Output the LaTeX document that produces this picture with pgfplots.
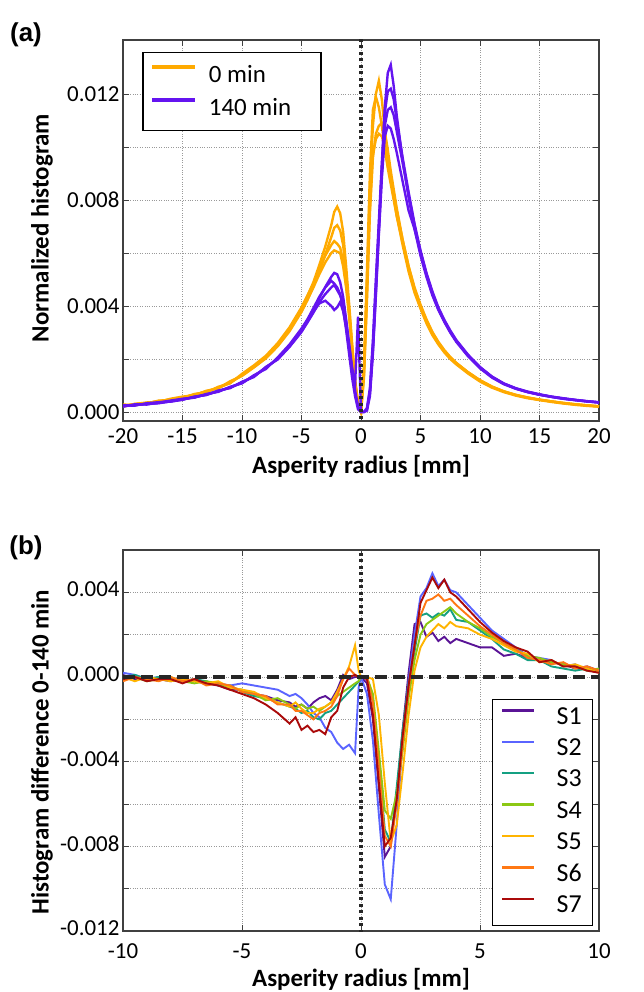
\documentclass[border=0pt]{standalone}
\usepackage{fontspec}
\setmainfont{Carlito}
\newfontfamily\arialf{Liberation Sans}
\usepackage{pgfplots}
\usepackage{pgfplotstable}
\pgfplotsset{compat=1.18}

\definecolor{orA}{RGB}{255,170,0}
\definecolor{puA}{RGB}{100,20,240}
\definecolor{sA}{RGB}{90,20,150}
\definecolor{sB}{RGB}{90,100,255}
\definecolor{sC}{RGB}{20,160,130}
\definecolor{sD}{RGB}{140,200,20}
\definecolor{sE}{RGB}{255,180,0}
\definecolor{sF}{RGB}{255,120,20}
\definecolor{sG}{RGB}{170,10,10}

% values in units of 1e-3
\pgfplotstableread{
x o1 o2 o3 o4 p1 p2 p3 p4
-20 0.25 0.22 0.28 0.20 0.22 0.25 0.20 0.24
-19 0.28 0.30 0.26 0.31 0.27 0.24 0.29 0.26
-18 0.34 0.36 0.32 0.33 0.30 0.33 0.28 0.31
-17 0.41 0.38 0.43 0.40 0.34 0.37 0.36 0.33
-16 0.47 0.50 0.45 0.48 0.41 0.39 0.43 0.40
-15 0.55 0.58 0.53 0.56 0.48 0.46 0.50 0.47
-14 0.66 0.63 0.68 0.64 0.55 0.58 0.54 0.57
-13 0.77 0.80 0.74 0.78 0.66 0.64 0.68 0.65
-12 0.92 0.89 0.95 0.90 0.78 0.81 0.76 0.79
-11 1.12 1.16 1.08 1.10 0.93 0.90 0.95 0.92
-10 1.40 1.36 1.44 1.38 1.10 1.14 1.08 1.12
-9 1.72 1.68 1.76 1.70 1.36 1.32 1.39 1.34
-8 2.08 2.02 2.12 2.05 1.66 1.70 1.62 1.68
-7 2.55 2.48 2.60 2.50 2.02 1.98 2.06 2.00
-6 3.15 3.05 3.20 3.10 2.50 2.46 2.55 2.48
-5 3.90 3.78 3.95 3.80 3.10 3.02 3.15 3.05
-4.5 4.38 4.22 4.40 4.25 3.45 3.38 3.50 3.40
-4 4.90 4.72 4.85 4.70 3.85 3.75 3.92 3.78
-3.5 5.55 5.30 5.40 5.20 4.30 4.15 4.35 4.10
-3 6.25 5.95 5.90 5.65 4.72 4.45 4.70 4.20
-2.5 7.05 6.60 6.30 6.00 5.10 4.70 4.95 4.00
-2.25 7.55 6.95 6.45 6.10 5.25 4.80 4.85 3.85
-2 7.75 7.05 6.35 6.05 5.20 4.60 4.70 3.95
-1.75 7.50 6.85 6.20 6.00 4.90 4.40 4.45 4.15
-1.5 6.80 6.30 5.70 5.50 4.35 4.10 3.90 3.80
-1.25 5.50 5.20 4.80 4.70 3.50 3.40 3.10 3.20
-1 4.10 3.90 3.70 3.60 2.60 2.50 2.20 2.40
-0.75 2.60 2.50 2.40 2.40 1.70 1.60 1.30 1.60
-0.5 1.20 1.10 1.20 1.10 0.80 0.75 0.60 1.00
-0.25 0.30 0.30 0.40 0.30 0.20 0.20 0.10 3.60
0 0.00 0.00 0.00 0.00 0.00 0.00 0.00 0.00
0.25 1.60 1.80 1.30 1.40 0.00 0.00 0.00 0.00
0.5 4.90 5.30 4.20 4.40 0.10 0.15 0.10 0.05
0.75 8.50 9.00 7.50 7.80 0.80 0.90 0.70 0.60
1 10.80 11.40 9.60 9.70 2.50 2.70 2.30 2.20
1.25 12.00 11.90 10.50 10.30 4.80 5.00 4.50 4.40
1.5 12.50 11.50 10.80 10.50 7.00 7.20 6.80 6.70
1.75 11.80 10.80 10.90 10.40 9.20 9.40 9.00 8.80
2 10.60 9.90 10.60 10.00 11.50 11.30 10.80 10.40
2.25 9.60 9.20 9.90 9.40 12.80 12.10 11.40 10.80
2.5 8.80 8.60 9.10 8.80 13.10 12.20 11.50 10.70
2.75 8.10 8.00 8.40 8.20 12.30 11.80 11.20 10.30
3 7.40 7.40 7.70 7.60 11.20 11.00 10.60 9.80
3.5 6.30 6.40 6.50 6.50 9.50 9.60 9.40 8.70
4 5.30 5.40 5.50 5.50 8.10 8.30 8.20 7.60
4.5 4.50 4.60 4.65 4.70 6.90 7.10 7.05 6.90
5 3.90 3.95 4.00 4.05 5.90 6.10 6.00 6.05
5.5 3.35 3.40 3.45 3.50 5.10 5.25 5.20 5.20
6 2.90 2.95 3.00 3.02 4.40 4.55 4.50 4.45
6.5 2.55 2.58 2.62 2.65 3.85 3.95 3.90 3.88
7 2.25 2.28 2.30 2.34 3.40 3.48 3.44 3.42
7.5 2.00 2.03 2.05 2.08 3.00 3.08 3.04 3.02
8 1.80 1.82 1.85 1.86 2.65 2.72 2.70 2.68
9 1.45 1.48 1.50 1.50 2.10 2.16 2.14 2.12
10 1.15 1.18 1.20 1.20 1.65 1.70 1.68 1.66
11 0.92 0.95 0.96 0.96 1.30 1.34 1.33 1.32
12 0.75 0.77 0.78 0.78 1.05 1.08 1.07 1.06
13 0.62 0.64 0.64 0.65 0.88 0.90 0.89 0.88
14 0.52 0.54 0.54 0.55 0.75 0.77 0.76 0.75
15 0.45 0.46 0.46 0.47 0.65 0.67 0.66 0.65
16 0.38 0.40 0.40 0.40 0.57 0.58 0.58 0.57
17 0.32 0.34 0.34 0.34 0.50 0.52 0.51 0.50
18 0.27 0.29 0.29 0.29 0.45 0.46 0.45 0.45
19 0.23 0.25 0.25 0.25 0.40 0.41 0.40 0.40
20 0.20 0.21 0.21 0.22 0.36 0.37 0.36 0.36
}\topdata

\pgfplotstableread{
x s1 s2 s3 s4 s5 s6 s7
-10 0.1 0.2 0.0 -0.1 0.0 -0.2 -0.1
-9.5 -0.1 0.1 0.1 0.0 -0.2 0.0 0.0
-9 0.0 -0.1 -0.1 -0.2 0.0 -0.1 -0.2
-8.5 -0.1 0.0 0.0 -0.1 -0.1 -0.2 -0.1
-8 -0.2 -0.1 -0.1 0.0 -0.2 0.0 -0.1
-7.5 -0.1 -0.2 -0.2 -0.2 -0.1 -0.2 -0.3
-7 -0.2 -0.1 -0.1 -0.3 -0.2 -0.1 -0.1
-6.5 -0.3 -0.3 -0.2 -0.2 -0.3 -0.4 -0.3
-6 -0.4 -0.3 -0.4 -0.3 -0.2 -0.3 -0.4
-5.5 -0.6 -0.4 -0.4 -0.5 -0.5 -0.4 -0.6
-5 -0.6 -0.3 -0.7 -0.6 -0.6 -0.7 -0.8
-4.5 -0.8 -0.4 -0.9 -0.8 -0.7 -0.8 -1.0
-4 -0.9 -0.5 -1.0 -1.1 -1.0 -0.9 -1.3
-3.5 -1.1 -0.6 -1.2 -1.0 -1.2 -1.3 -1.7
-3 -1.2 -0.9 -1.4 -1.3 -1.4 -1.3 -2.2
-2.75 -1.4 -0.8 -1.5 -1.5 -1.2 -1.6 -1.9
-2.5 -1.3 -1.0 -1.7 -1.3 -1.5 -1.6 -2.5
-2.25 -1.5 -1.3 -1.6 -1.5 -1.7 -1.8 -2.3
-2 -1.2 -1.7 -1.9 -1.4 -1.7 -2.0 -2.6
-1.75 -1.0 -1.9 -2.0 -1.6 -1.5 -1.7 -2.5
-1.5 -0.9 -2.4 -1.7 -1.4 -1.4 -1.6 -2.7
-1.25 -1.1 -2.6 -1.6 -1.2 -1.2 -1.4 -1.9
-1 -0.6 -3.1 -1.3 -0.9 -0.7 -0.9 -1.6
-0.75 0.1 -3.4 -1.0 -0.7 -0.1 -0.1 -0.5
-0.5 -0.1 -3.2 -0.7 -0.5 0.5 0.4 0.0
-0.25 0.0 -3.6 -0.4 -0.3 1.5 0.1 0.1
-0.1 0.0 -0.5 -0.2 -0.2 0.3 0.0 0.0
0 0 0 0 0 0 0 0
0.25 -0.3 -0.8 0.0 0.0 0.0 0.0 -0.1
0.5 -2.0 -3.0 -1.0 -0.8 -0.1 -1.2 -1.8
0.75 -5.2 -6.5 -4.0 -3.5 -1.8 -4.2 -5.0
1 -8.5 -9.8 -7.2 -6.3 -5.0 -7.5 -8.0
1.25 -8.0 -10.5 -7.8 -6.7 -7.8 -8.0 -7.6
1.5 -5.5 -7.0 -5.2 -5.5 -7.0 -6.0 -5.8
1.75 -2.5 -3.0 -2.5 -3.5 -4.5 -3.2 -2.8
2 0.2 -0.2 -0.3 -1.0 -1.8 -0.6 -0.4
2.25 2.5 2.0 1.2 0.8 0.3 1.5 1.5
2.5 2.6 3.8 2.9 2.0 1.4 2.9 3.5
2.75 1.9 4.2 3.0 2.5 1.9 3.6 4.1
3 2.1 4.9 2.8 2.7 2.2 3.7 4.7
3.25 1.7 4.3 3.0 2.9 2.5 3.9 4.2
3.5 1.9 4.6 2.9 3.1 2.3 3.6 4.6
3.75 1.6 4.1 3.2 3.3 2.6 3.7 4.0
4 1.8 4.0 2.7 3.0 2.4 3.4 3.8
4.5 1.6 3.4 2.6 2.6 2.3 2.9 3.2
5 1.4 2.8 2.2 2.3 2.0 2.4 2.6
5.5 1.4 2.2 1.8 1.9 1.8 2.0 2.1
6 1.0 1.8 1.3 1.6 1.5 1.6 1.7
6.5 1.1 1.4 1.1 1.3 1.2 1.3 1.4
7 0.9 1.0 0.8 1.0 1.1 0.9 1.2
7.5 0.8 0.9 0.8 0.9 0.7 0.8 0.7
8 0.7 0.8 0.5 0.7 0.8 0.6 0.8
8.5 0.6 0.5 0.4 0.6 0.5 0.7 0.5
9 0.4 0.6 0.3 0.5 0.6 0.4 0.5
9.5 0.5 0.3 0.4 0.3 0.4 0.5 0.3
10 0.3 0.4 0.3 0.4 0.2 0.3 0.2
}\botdata

\pgfplotsset{
  mystyle/.style={
    scale only axis, width=476bp, height=381bp,
    axis line style={line width=1.3bp, black!75},
    tick style={line width=0.8bp, black!75},
    major tick length=6bp, tick align=inside,
    grid=major, grid style={dotted, black!40, line width=0.9bp},
    tick label style={font=\fontsize{23}{23}\selectfont},
    xticklabel style={yshift=-4bp},
    every axis plot/.append style={line width=1.9bp},
    clip=true,
  },
}
\newcommand{\smallcaps}[2]{{\arialf\fontsize{23}{23}\selectfont #1}{\arialf\fontsize{18}{18}\selectfont #2}}

\begin{document}
\begin{tikzpicture}
\useasboundingbox (0bp,0bp) rectangle (644bp,-992bp);
\node[font=\arialf\bfseries\fontsize{26}{26}\selectfont] at (26bp,-35bp) {(a)};
\node[font=\arialf\bfseries\fontsize{26}{26}\selectfont] at (26bp,-548bp) {(b)};
\node[font=\bfseries\fontsize{25}{25}\selectfont, rotate=90] at (42bp,-228bp) {Normalized histogram};
\node[font=\bfseries\fontsize{25}{25}\selectfont, rotate=90] at (42bp,-752bp) {Histogram difference 0-140 min};
\node[font=\bfseries\fontsize{25}{25}\selectfont] at (361bp,-466bp) {Asperity radius [mm]};
\node[font=\bfseries\fontsize{25}{25}\selectfont] at (361bp,-979bp) {Asperity radius [mm]};

\begin{axis}[mystyle, at={(123bp,-421bp)}, anchor=south west,
  xmin=-20, xmax=20, ymin=-0.34, ymax=14.04,
  xtick={-20,-15,...,20},
  xticklabels={-20,-15,-10,-5,0,5,10,15,20},
  ytick={0,2,...,12},
  yticklabels={0.000,,0.004,,0.008,,0.012},
  every axis plot/.append style={line width=2.4bp},
  legend style={at={(0.04,0.969)}, anchor=north west, draw=black, line width=1.5bp,
    font=\fontsize{25}{25}\selectfont, inner xsep=8bp, inner ysep=6bp,
    nodes={inner sep=2bp, text height=22bp, text depth=7bp},
    /tikz/every odd column/.append style={column sep=10bp}},
  legend cell align=left,
  legend image code/.code={\draw[line width=3.2bp] (0bp,8bp) -- (43bp,8bp);},
]
\addlegendimage{orA}
\addlegendentry{\makebox[102bp][l]{0 min}}
\addlegendimage{puA}
\addlegendentry{\makebox[102bp][l]{140 min}}
\addplot[orA, forget plot] table[x=x,y=o1] {\topdata};
\addplot[orA, forget plot] table[x=x,y=o2] {\topdata};
\addplot[orA, forget plot] table[x=x,y=o3] {\topdata};
\addplot[orA, forget plot] table[x=x,y=o4] {\topdata};
\addplot[puA, forget plot] table[x=x,y=p1] {\topdata};
\addplot[puA, forget plot] table[x=x,y=p2] {\topdata};
\addplot[puA, forget plot] table[x=x,y=p3] {\topdata};
\addplot[puA, forget plot] table[x=x,y=p4] {\topdata};
\addplot[black!85, line width=3.6bp, dash pattern=on 3bp off 3.5bp, forget plot] coordinates {(0,-1) (0,15)};
\node[anchor=base] at (rel axis cs:0.25,1) [yshift=12bp] {\smallcaps{C}{ONCAVE}};
\node[anchor=base] at (rel axis cs:0.75,1) [yshift=12bp] {\smallcaps{C}{ONVEX}};
\end{axis}

\begin{axis}[mystyle, at={(123bp,-931bp)}, anchor=south west,
  xmin=-10, xmax=10, ymin=-12, ymax=6,
  xtick={-10,-5,...,10},
  xticklabels={-10,-5,0,5,10},
  xticklabel style={yshift=-5bp},
  ytick={-12,-10,...,6},
  yticklabels={-0.012,,-0.008,,-0.004,,0.000,,0.004,},
  yticklabel style={yshift=3bp},
  legend style={at={(0.987,0.013)}, anchor=south east, draw=black, line width=1.2bp,
    font=\fontsize{26}{26}\selectfont, inner xsep=8bp, inner ysep=3bp,
    nodes={inner sep=1.5bp, text height=20bp, text depth=8.4bp},
    /tikz/every odd column/.append style={column sep=20bp}},
  legend cell align=left,
  legend image code/.code={\draw[line width=2.4bp] (0bp,8bp) -- (32bp,8bp);},
]
\addplot[sA] table[x=x,y=s1] {\botdata}; \addlegendentry{\makebox[26bp][l]{S1}}
\addplot[sB] table[x=x,y=s2] {\botdata}; \addlegendentry{S2}
\addplot[sC] table[x=x,y=s3] {\botdata}; \addlegendentry{S3}
\addplot[sD] table[x=x,y=s4] {\botdata}; \addlegendentry{S4}
\addplot[sE] table[x=x,y=s5] {\botdata}; \addlegendentry{S5}
\addplot[sF] table[x=x,y=s6] {\botdata}; \addlegendentry{S6}
\addplot[sG] table[x=x,y=s7] {\botdata}; \addlegendentry{S7}
\addplot[black!85, line width=3.6bp, dash pattern=on 3bp off 3.5bp, forget plot] coordinates {(0,-13) (0,7)};
\addplot[black!85, line width=3.2bp, dash pattern=on 12bp off 6bp, forget plot] coordinates {(-10,0) (10,0)};
\node[anchor=base] at (rel axis cs:0.25,1) [yshift=12bp] {\smallcaps{C}{ONCAVE}};
\node[anchor=base] at (rel axis cs:0.75,1) [yshift=12bp] {\smallcaps{C}{ONVEX}};
\end{axis}
\end{tikzpicture}
\end{document}
